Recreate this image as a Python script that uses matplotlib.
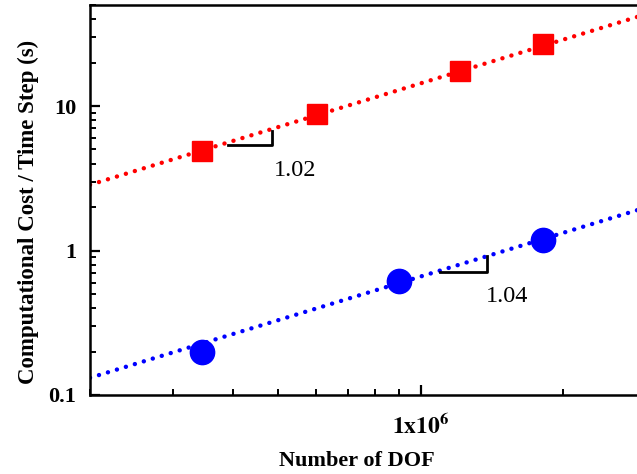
import matplotlib
matplotlib.use("Agg")
import matplotlib.pyplot as plt
from matplotlib.ticker import LogLocator, FixedLocator, NullFormatter, FixedFormatter

plt.rcParams['font.family'] = ['Liberation Serif', 'DejaVu Serif']
plt.rcParams['mathtext.fontset'] = 'stix'

# data
dof_red = [3.44e5, 6.03e5, 1.21e6, 1.815e6]
cost_red = [4.88, 8.85, 17.5, 26.9]
dof_blue = [3.44e5, 9.0e5, 1.815e6]
cost_blue = [0.20, 0.614, 1.18]

# fitted power-law lines (end points)
fit_x = [2.0e5, 2.86e6]
fit_red = [2.85, 41.3]
fit_blue = [0.1315, 1.90]

# slope markers: (x0, x1, y0, y1, label, label x, label y)
slope_red = (3.906e5, 4.84e5, 5.33, 6.76, "1.02", 5.42e5, 3.58)
slope_blue = (1.099e6, 1.382e6, 0.708, 0.913, "1.04", 1.52e6, 0.484)

fig = plt.figure(figsize=(6.37, 4.74), dpi=100)
ax = fig.add_axes([90 / 637, 79 / 474, 547 / 637, 390 / 474])

dots = (0, (0.01, 2.1))
ax.plot(fit_x, fit_red, color="#ff0000", lw=3.2, linestyle=dots, dash_capstyle="round")
ax.plot(fit_x, fit_blue, color="#0000ff", lw=3.2, linestyle=dots, dash_capstyle="round")
ax.plot(dof_red, cost_red, "s", color="#ff0000", ms=15, mec="#ff0000")
ax.plot(dof_blue, cost_blue, "o", color="#0000ff", ms=17.5, mec="#0000ff")

for x0, x1, y0, y1, lab, tx, ty in (slope_red, slope_blue):
    ax.plot([x0, x1, x1], [y0, y0, y1], color="black", lw=2)
    ax.text(tx, ty, lab, fontsize=17.5, ha="center", va="center")

ax.set_xscale("log")
ax.set_yscale("log")
ax.set_xlim(fit_x[0], fit_x[1])
ax.set_ylim(0.1, 50)

ax.xaxis.set_major_locator(FixedLocator([1e6]))
ax.xaxis.set_major_formatter(FixedFormatter([r"$\mathbf{1x10^{6}}$"]))
ax.xaxis.set_minor_locator(LogLocator(base=10, subs=range(2, 10)))
ax.xaxis.set_minor_formatter(NullFormatter())
ax.yaxis.set_major_locator(FixedLocator([0.1, 1, 10]))
ax.yaxis.set_major_formatter(FixedFormatter(["0.1", "1", "10"]))
ax.yaxis.set_minor_locator(LogLocator(base=10, subs=range(2, 10)))
ax.yaxis.set_minor_formatter(NullFormatter())

ax.tick_params(which="major", direction="in", length=7, width=1.6, labelsize=16)
ax.tick_params(axis="x", which="major", pad=14, labelsize=17)
ax.tick_params(axis="y", which="major", pad=10)
ax.tick_params(which="minor", direction="in", length=4.5, width=1.4)
ax.tick_params(top=False, right=False, which="both")
for lab in ax.get_xticklabels() + ax.get_yticklabels():
    lab.set_fontweight("bold")

for s in ["left", "bottom", "top"]:
    ax.spines[s].set_linewidth(1.8)
ax.spines["right"].set_visible(False)

ax.set_xlabel("Number of DOF", fontsize=16, fontweight="bold", va="center")
ax.xaxis.set_label_coords(0.488, -0.169)
ax.set_ylabel("Computational Cost / Time Step (s)", fontsize=16.5, fontweight="bold", va="center")
ax.yaxis.set_label_coords(-0.113, 0.469)

fig.savefig("out.png", dpi=100)
